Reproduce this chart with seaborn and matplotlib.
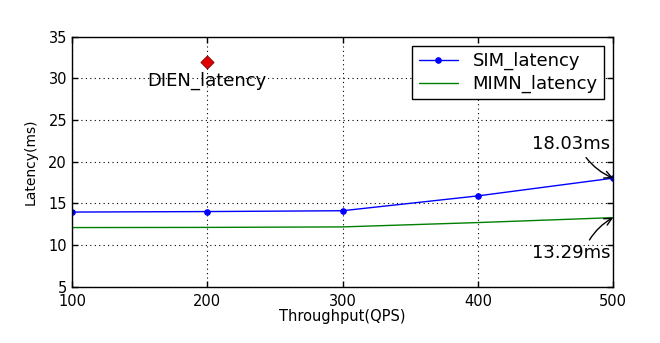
import matplotlib
matplotlib.use("Agg")
import matplotlib.pyplot as plt
import seaborn as sns
import pandas as pd

qps = [100, 200, 300, 400, 500]
sim_latency = [13.96, 14.02, 14.12, 15.9, 18.03]
mimn_latency = [12.1, 12.12, 12.18, 12.7, 13.29]
dien_qps = [200]
dien_latency = [32.0]

sns.set_theme(style="white")
plt.rcParams['font.family'] = ['DejaVu Sans']
plt.rcParams['text.color'] = 'black'
plt.rcParams['axes.labelcolor'] = 'black'
plt.rcParams['xtick.color'] = 'black'
plt.rcParams['ytick.color'] = 'black'

fig = plt.figure(figsize=(6.6, 3.43), dpi=100)
ax = fig.add_axes([0.109, 0.164, 0.82, 0.729])

df_sim = pd.DataFrame({"qps": qps, "lat": sim_latency})
df_mimn = pd.DataFrame({"qps": qps, "lat": mimn_latency})
sns.lineplot(data=df_sim, x="qps", y="lat", ax=ax, color="#0000ff", marker="o",
             markersize=4, markeredgecolor="#0000ff", linewidth=1.0, label="SIM_latency")
sns.lineplot(data=df_mimn, x="qps", y="lat", ax=ax, color="#008000",
             linewidth=1.0, label="MIMN_latency")
ax.scatter(dien_qps, dien_latency, marker="D", s=45, color="#e00000",
           edgecolor="#800000", linewidth=0.6, zorder=5)
ax.text(dien_qps[0], 29.7, "DIEN_latency", ha="center", va="center", fontsize=13, color="black")

ax.set_xlim(100, 500)
ax.set_ylim(5, 35)
ax.set_xticks([100, 200, 300, 400, 500])
ax.set_yticks([5, 10, 15, 20, 25, 30, 35])
ax.grid(True, color="black", linestyle=(0, (1, 3)), linewidth=0.8)
for s in ax.spines.values():
    s.set_color("black")
    s.set_linewidth(1.0)
ax.tick_params(direction="in", length=4, width=1, colors="black", labelsize=10.5,
               top=True, right=True, bottom=True, left=True)
ax.tick_params(axis="x", pad=5)
ax.set_xlabel("Throughput(QPS)", fontsize=10.5, labelpad=0, color="black")
ax.set_ylabel("Latency(ms)", fontsize=10, labelpad=8, color="black")

ax.annotate("18.03ms", xy=(qps[-1], sim_latency[-1]), xytext=(469, 22.1),
            fontsize=13, ha="center", va="center", color="black",
            arrowprops=dict(arrowstyle="->", color="black", lw=1, relpos=(0.65, 0.0),
                            shrinkA=1, shrinkB=0,
                            connectionstyle="arc3,rad=0.15"))
ax.annotate("13.29ms", xy=(qps[-1], mimn_latency[-1]), xytext=(469, 9.0),
            fontsize=13, ha="center", va="center", color="black",
            arrowprops=dict(arrowstyle="->", color="black", lw=1, relpos=(0.7, 1.0),
                            shrinkA=1, shrinkB=0,
                            connectionstyle="arc3,rad=-0.15"))

leg = ax.legend(loc="upper right", fontsize=13, frameon=True, fancybox=False,
                framealpha=1, edgecolor="black", borderaxespad=0.5,
                handlelength=2.2, borderpad=0.35, labelspacing=0.25)
leg.get_frame().set_linewidth(1.0)
for t in leg.get_texts():
    t.set_color("black")

fig.savefig("out.png", dpi=100)
